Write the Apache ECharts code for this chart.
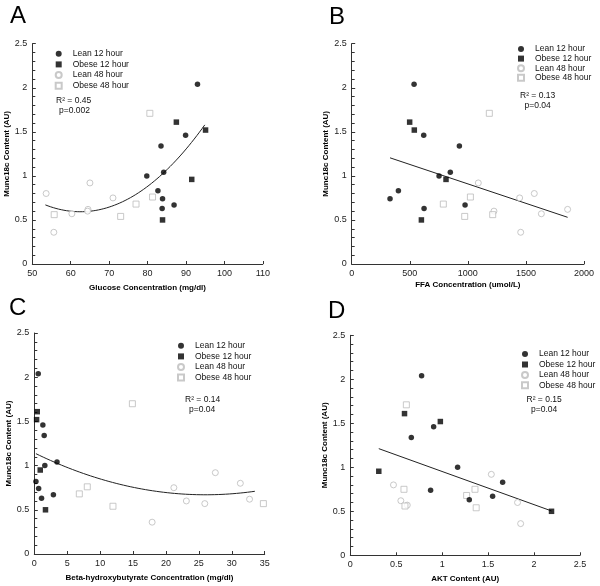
<!DOCTYPE html>
<html>
<head>
<meta charset="utf-8">
<script src="https://cdn.jsdelivr.net/npm/echarts@6/dist/echarts.min.js"></script>
<style>
html,body{margin:0;padding:0;background:#fff;}
#chart{width:600px;height:586px;}
</style>
</head>
<body>
<div id="chart"></div>
<script>
// ---------- Data ----------
var legendNames = ['Lean 12 hour', 'Obese 12 hour', 'Lean 48 hour', 'Obese 48 hour'];
var yTitle = 'Munc18c Content (AU)';

// Panel A: Glucose Concentration (mg/dl)
var leanA12  = [[93.0,2.04],[89.9,1.46],[83.5,1.34],[79.8,1.00],[84.2,1.04],[82.7,0.83],[83.9,0.74],[83.8,0.63],[86.9,0.67]];
var obeseA12 = [[87.5,1.61],[95.1,1.52],[91.5,0.96],[83.9,0.50]];
var leanA48  = [[53.6,0.80],[65.0,0.92],[71.0,0.75],[64.5,0.62],[64.4,0.60],[60.3,0.57],[55.6,0.36]];
var obeseA48 = [[80.6,1.71],[81.3,0.76],[77.0,0.68],[73.0,0.54],[55.7,0.56]];
// quadratic fit: y = a*(x-h)^2 + k, drawn from x0 to x1  -> [a, h, k, x0, x1]
var fitA = [0.000939, 62.5, 0.593, 53.4, 94.9];

// Panel B: FFA Concentration (umol/L)
var leanB12  = [[537,2.04],[620,1.46],[927,1.34],[752,1.00],[849,1.04],[402,0.83],[330,0.74],[623,0.63],[976,0.67]];
var obeseB12 = [[499,1.61],[539,1.52],[812,0.96],[600,0.50]];
var leanB48  = [[1090,0.92],[1225,0.60],[1455,0.36],[1446,0.75],[1572,0.80],[1633,0.57],[1859,0.62]];
var obeseB48 = [[1185,1.71],[1022,0.76],[789,0.68],[973,0.54],[1214,0.56]];
// linear fit: [slope, intercept, x0, x1]
var fitB = [-0.0004415, 1.3507, 330, 1859];

// Panel C: Beta-hydroxybutyrate Concentration (mg/dl)
var leanC12  = [[0.6,2.04],[1.3,1.46],[1.5,1.34],[1.6,1.00],[3.45,1.04],[0.25,0.82],[0.66,0.74],[1.1,0.63],[2.9,0.67]];
var obeseC12 = [[0.45,1.61],[0.35,1.52],[0.9,0.95],[1.7,0.50]];
var leanC48  = [[27.5,0.92],[23.1,0.60],[17.9,0.36],[21.2,0.75],[31.3,0.80],[25.9,0.57],[32.7,0.62]];
var obeseC48 = [[14.9,1.70],[8.05,0.76],[6.84,0.68],[11.95,0.54],[34.8,0.57]];
var fitC = [0.000701, 26.0, 0.670, 0.25, 33.5];

// Panel D: AKT Content (AU)
var leanD12  = [[0.776,2.04],[0.907,1.46],[0.664,1.34],[1.168,1.00],[1.658,0.83],[0.874,0.74],[1.295,0.63],[1.549,0.67]];
var obeseD12 = [[0.59,1.61],[0.98,1.52],[0.31,0.955],[2.19,0.50]];
var leanD48  = [[1.535,0.92],[0.47,0.80],[0.55,0.62],[0.62,0.57],[1.82,0.60],[1.854,0.36]];
var obeseD48 = [[0.61,1.71],[0.584,0.75],[0.595,0.56],[1.266,0.68],[1.357,0.75],[1.37,0.54]];
var fitD = [-0.3766, 1.3287, 0.31, 2.19];

var xTitles = ['Glucose Concentration (mg/dl)', 'FFA Concentration (umol/L)',
               'Beta-hydroxybutyrate Concentration (mg/dl)', 'AKT Content (AU)'];
var xRanges = [[50,110,10],[0,2000,500],[0,35,5],[0,2.5,0.5]];
var panelLetters = ['A','B','C','D'];
var statsR2 = ['R\u00B2 = 0.45','R\u00B2 = 0.13','R\u00B2 = 0.14','R\u00B2 = 0.15'];
var statsP  = ['p=0.002','p=0.04','p=0.04','p=0.04'];

// ---------- Layout ----------
var FONT = 'Liberation Sans, Arial, Helvetica, sans-serif';
var grids = [
  {left:32.3, top:43.7, width:230.5, height:220.3},
  {left:351.7, top:43.7, width:232.3, height:220.3},
  {left:34.3, top:333, width:230.4, height:221},
  {left:350.3, top:335.3, width:229.7, height:220}
];
var xNameGaps = [20, 17, 20, 19];
var yNameGaps = [21, 21, 20, 20];
var legendPos = [
  {cx:57.7, top:49.2, gap:1.7},
  {cx:520, top:44.5, gap:0.6},
  {cx:180, top:341.3, gap:1.6},
  {cx:524, top:349.6, gap:1.4}
];
var titlePos = [{left:10, top:4},{left:329, top:5},{left:9, top:296},{left:328, top:299}];
var statPos = [
  {r:[56,96],   p:[59,106]},
  {r:[520,91],  p:[524.5,101.5]},
  {r:[185,395.5], p:[189,405]},
  {r:[526.5,395.5], p:[531,405.5]}
];

var sets = [
  [leanA12, obeseA12, leanA48, obeseA48, fitA, 'quad'],
  [leanB12, obeseB12, leanB48, obeseB48, fitB, 'lin'],
  [leanC12, obeseC12, leanC48, obeseC48, fitC, 'quad'],
  [leanD12, obeseD12, leanD48, obeseD48, fitD, 'lin']
];

function fitLine(fit, kind) {
  var pts = [];
  var x0 = kind === 'quad' ? fit[3] : fit[2];
  var x1 = kind === 'quad' ? fit[4] : fit[3];
  var n = kind === 'quad' ? 60 : 1;
  for (var i = 0; i <= n; i++) {
    var x = x0 + (x1 - x0) * i / n;
    var y = kind === 'quad' ? fit[0] * (x - fit[1]) * (x - fit[1]) + fit[2] : fit[0] * x + fit[1];
    pts.push([x, y]);
  }
  return pts;
}

var GRAY = '#bcbcbc';
var styles = [
  {symbol:'circle', size:5.5, itemStyle:{color:'#000'}},
  {symbol:'rect', size:5.5, itemStyle:{color:'#000'}},
  {symbol:'circle', size:6, itemStyle:{color:'#fff', borderColor:GRAY, borderWidth:1}},
  {symbol:'rect', size:6, itemStyle:{color:'#fff', borderColor:GRAY, borderWidth:1}}
];

function plainNum(v) { return String(Math.round(v * 1000) / 1000); }

var option = {
  backgroundColor:'#fff',
  animation:false,
  textStyle:{fontFamily:FONT},
  title:[], grid:[], xAxis:[], yAxis:[], legend:[], series:[], graphic:[]
};

for (var p = 0; p < 4; p++) {
  option.grid.push({left:grids[p].left, top:grids[p].top, width:grids[p].width, height:grids[p].height, containLabel:false});
  option.title.push({text:panelLetters[p], left:titlePos[p].left, top:titlePos[p].top, padding:0,
    textStyle:{fontFamily:FONT, fontSize:24, fontWeight:'normal', color:'#000'}});
  var xr = xRanges[p];
  option.xAxis.push({
    type:'value', gridIndex:p, min:xr[0], max:xr[1], interval:xr[2],
    name:xTitles[p], nameLocation:'middle', nameGap:xNameGaps[p],
    nameTextStyle:{fontFamily:FONT, fontSize:8, fontWeight:'bold', color:'#000'},
    axisLine:{show:true, onZero:false, lineStyle:{color:'#333', width:1}},
    axisTick:{show:true, inside:true, length:3, lineStyle:{color:'#333'}},
    axisLabel:{fontFamily:FONT, fontSize:9, color:'#222', margin:5, formatter:plainNum},
    splitLine:{show:false}
  });
  option.yAxis.push({
    type:'value', gridIndex:p, min:0, max:2.5, interval:0.5,
    name:yTitle, nameLocation:'middle', nameGap:yNameGaps[p], nameRotate:90,
    nameTextStyle:{fontFamily:FONT, fontSize:8, fontWeight:'bold', color:'#000'},
    axisLine:{show:true, onZero:false, lineStyle:{color:'#333', width:1}},
    axisTick:{show:true, inside:true, length:3.5, lineStyle:{color:'#333'}},
    minorTick:{show:true, splitNumber:5, length:3, lineStyle:{color:'#333', width:1}},
    axisLabel:{fontFamily:FONT, fontSize:9, color:'#222', margin:5, formatter:plainNum},
    splitLine:{show:false}
  });
  option.legend.push({
    orient:'vertical', left:legendPos[p].cx - 3, top:legendPos[p].top, padding:0,
    itemWidth:6, itemHeight:6, itemGap:legendPos[p].gap, selectedMode:false,
    data:legendNames,
    textStyle:{fontFamily:FONT, fontSize:8.5, color:'#111', padding:[0,0,0,6]}
  });
  var s = sets[p];
  for (var k = 0; k < 4; k++) {
    option.series.push({
      name:legendNames[k], type:'scatter', xAxisIndex:p, yAxisIndex:p,
      symbol:styles[k].symbol, symbolSize:styles[k].size, itemStyle:styles[k].itemStyle,
      data:s[k], z: k < 2 ? 3 : 2
    });
  }
  option.series.push({
    type:'line', xAxisIndex:p, yAxisIndex:p, data:fitLine(s[4], s[5]),
    showSymbol:false, symbol:'none', lineStyle:{color:'#222', width:1}, z:1, silent:true
  });
  option.graphic.push({type:'text', left:statPos[p].r[0], top:statPos[p].r[1],
    style:{text:statsR2[p], font:'8.5px ' + FONT, fill:'#111'}});
  option.graphic.push({type:'text', left:statPos[p].p[0], top:statPos[p].p[1],
    style:{text:statsP[p], font:'8.5px ' + FONT, fill:'#111'}});
}

var chart = echarts.init(document.getElementById('chart'), null, {renderer:'canvas'});
chart.setOption(option);
</script>
</body>
</html>
